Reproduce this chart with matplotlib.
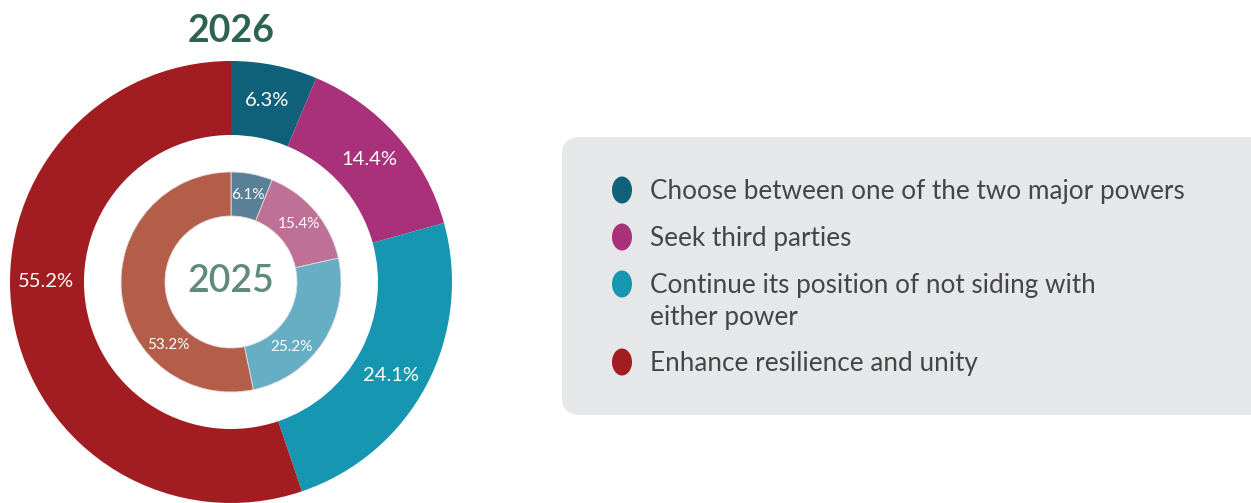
import numpy as np
import matplotlib.pyplot as plt
from matplotlib.patches import FancyBboxPatch, Ellipse

plt.rcParams['font.family'] = ['Lato', 'DejaVu Sans']

categories = ["Choose between one of the two major powers",
              "Seek third parties",
              "Continue its position of not siding with\neither power",
              "Enhance resilience and unity"]
values_2026 = [6.3, 14.4, 24.1, 55.2]
values_2025 = [6.1, 15.4, 25.2, 53.2]
colors_2026 = ["#0f6179", "#a8317a", "#1696b0", "#a11d21"]
colors_2025 = ["#5a8098", "#bf7097", "#66aec4", "#b45e4a"]

# small angular nudges (degrees) for the value labels, as in the original layout
nudge_2026 = [0, 0, 2.5, 9.4]
nudge_2025 = [0, 0, 14, -39]

W, H = 1251, 503
fig = plt.figure(figsize=(W / 100, H / 100), dpi=100)

# donut axes: centre (231, 282), radius 221 px
cx, cy, R = 231, 282, 221
ax = fig.add_axes([(cx - R) / W, (H - cy - R) / H, 2 * R / W, 2 * R / H])
ax.set_aspect('equal')
ax.axis('off')

r_out, w_out = 1.0, 1.0 - 147 / 221
r_in, w_in = 110 / 221, (110 - 66) / 221

ax.pie(values_2026, radius=r_out, colors=colors_2026, startangle=90,
       counterclock=False, wedgeprops=dict(width=w_out, linewidth=0))
ax.pie(values_2025, radius=r_in, colors=colors_2025, startangle=90,
       counterclock=False, wedgeprops=dict(width=w_in, linewidth=0.6, edgecolor='#dddddd'))
ax.set_xlim(-1, 1)
ax.set_ylim(-1, 1)


def put_labels(vals, nudges, rad, size):
    cum = np.cumsum([0] + vals)
    tot = cum[-1]
    for i, v in enumerate(vals):
        mid = (cum[i] + cum[i + 1]) / 2 / tot * 360 + nudges[i]
        a = np.deg2rad(90 - mid)
        ax.text(rad * np.cos(a), rad * np.sin(a), f"{v}%", ha='center', va='center',
                color='white', fontsize=size)


put_labels(values_2026, nudge_2026, 185 / 221, 14.5)
put_labels(values_2025, nudge_2025, 89 / 221, 11)

ax.text(0, 0, "2025", ha='center', va='center', color='#5f8a7c', fontsize=27,
        fontweight='semibold')
fig.text(cx / W, 1 - 31 / H, "2026", ha='center', va='center', color='#2e6353',
         fontsize=27, fontweight='bold')

# legend panel in pixel coordinates
lax = fig.add_axes([0, 0, 1, 1])
lax.set_xlim(0, W)
lax.set_ylim(H, 0)
lax.axis('off')
lax.patch.set_alpha(0)
box = FancyBboxPatch((562, 137), 720, 278, boxstyle="round,pad=0,rounding_size=18",
                     facecolor='#e6e7e9', edgecolor='none')
lax.add_patch(box)

ys = [190, 237, 284, 362]
for y, lab, col in zip(ys, categories, colors_2026):
    lax.add_patch(Ellipse((622, y), 20, 27, facecolor=col, edgecolor='none'))
    for k, line in enumerate(lab.split("\n")):
        lax.text(650, y + 9 + 32 * k, line, ha='left', va='baseline', fontsize=18.8,
                 color='#454545')

fig.savefig("out.png", dpi=100)
